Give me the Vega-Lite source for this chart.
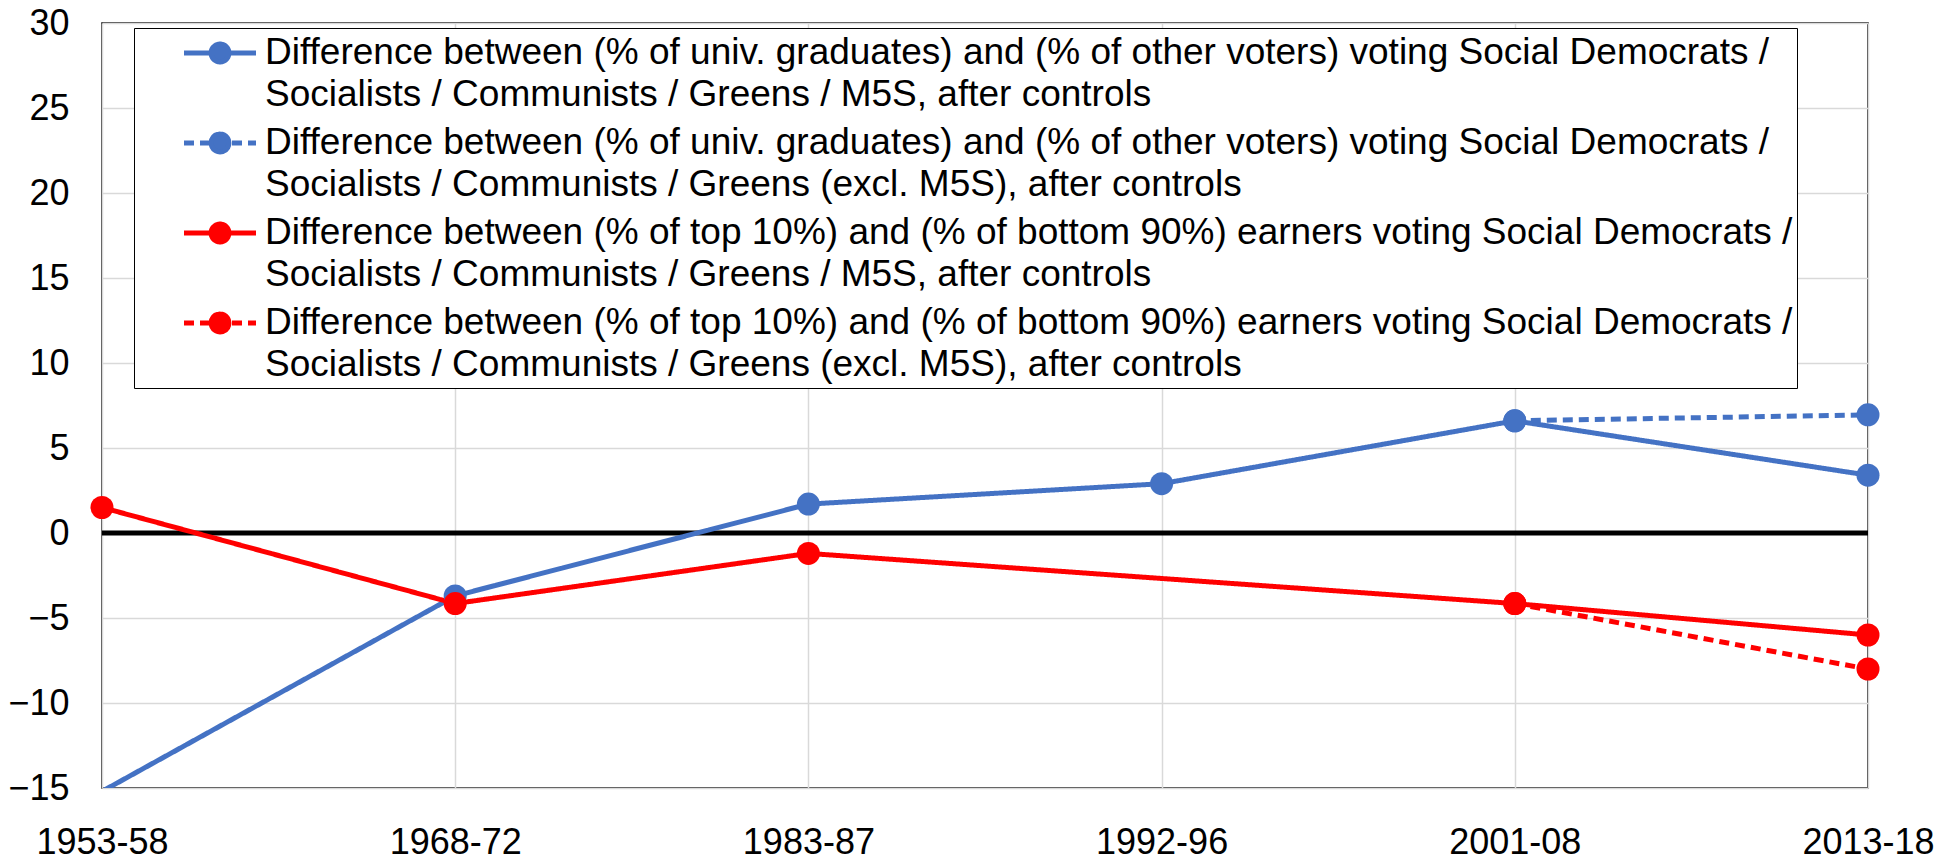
{
  "$schema": "https://vega.github.io/schema/vega-lite/v6.json",
  "width": 1766,
  "height": 765,
  "autosize": {"type": "none"},
  "padding": {"left": 102, "top": 23, "right": 91, "bottom": 72},
  "background": "white",
  "config": {
    "font": "Liberation Sans",
    "view": {"stroke": "black", "strokeWidth": 1.5},
    "axis": {"labelFont": "Liberation Sans", "labelFontSize": 36, "labelColor": "black", "ticks": false, "tickSize": 0, "domain": false, "gridColor": "#d9d9d9", "gridWidth": 1.5, "title": null}
  },
  "datasets": {
    "main": [
      {"period": "1953-58", "series": "Difference between (% of univ. graduates) and (% of other voters) voting Social Democrats / Socialists / Communists / Greens / M5S, after controls", "value": -15.2},
      {"period": "1968-72", "series": "Difference between (% of univ. graduates) and (% of other voters) voting Social Democrats / Socialists / Communists / Greens / M5S, after controls", "value": -3.7},
      {"period": "1983-87", "series": "Difference between (% of univ. graduates) and (% of other voters) voting Social Democrats / Socialists / Communists / Greens / M5S, after controls", "value": 1.7},
      {"period": "1992-96", "series": "Difference between (% of univ. graduates) and (% of other voters) voting Social Democrats / Socialists / Communists / Greens / M5S, after controls", "value": 2.9},
      {"period": "2001-08", "series": "Difference between (% of univ. graduates) and (% of other voters) voting Social Democrats / Socialists / Communists / Greens / M5S, after controls", "value": 6.6},
      {"period": "2013-18", "series": "Difference between (% of univ. graduates) and (% of other voters) voting Social Democrats / Socialists / Communists / Greens / M5S, after controls", "value": 3.4},
      {"period": "2001-08", "series": "Difference between (% of univ. graduates) and (% of other voters) voting Social Democrats / Socialists / Communists / Greens (excl. M5S), after controls", "value": 6.6},
      {"period": "2013-18", "series": "Difference between (% of univ. graduates) and (% of other voters) voting Social Democrats / Socialists / Communists / Greens (excl. M5S), after controls", "value": 6.95},
      {"period": "1953-58", "series": "Difference between (% of top 10%) and (% of bottom 90%) earners voting Social Democrats / Socialists / Communists / Greens / M5S, after controls", "value": 1.5},
      {"period": "1968-72", "series": "Difference between (% of top 10%) and (% of bottom 90%) earners voting Social Democrats / Socialists / Communists / Greens / M5S, after controls", "value": -4.15},
      {"period": "1983-87", "series": "Difference between (% of top 10%) and (% of bottom 90%) earners voting Social Democrats / Socialists / Communists / Greens / M5S, after controls", "value": -1.2},
      {"period": "2001-08", "series": "Difference between (% of top 10%) and (% of bottom 90%) earners voting Social Democrats / Socialists / Communists / Greens / M5S, after controls", "value": -4.15},
      {"period": "2013-18", "series": "Difference between (% of top 10%) and (% of bottom 90%) earners voting Social Democrats / Socialists / Communists / Greens / M5S, after controls", "value": -6.0},
      {"period": "2001-08", "series": "Difference between (% of top 10%) and (% of bottom 90%) earners voting Social Democrats / Socialists / Communists / Greens (excl. M5S), after controls", "value": -4.15},
      {"period": "2013-18", "series": "Difference between (% of top 10%) and (% of bottom 90%) earners voting Social Democrats / Socialists / Communists / Greens (excl. M5S), after controls", "value": -8.0}
    ]
  },
  "data": {"name": "main"},
  "layer": [
    {
      "data": {"values": [{"zero": 0}]},
      "mark": {"type": "rule", "color": "black", "strokeWidth": 5},
      "encoding": {"y": {"datum": 0, "type": "quantitative"}}
    },
    {
      "mark": {"type": "line", "clip": true, "strokeWidth": 5},
      "encoding": {
        "x": {"field": "period", "type": "ordinal", "scale": {"type": "point", "padding": 0, "domain": ["1953-58", "1968-72", "1983-87", "1992-96", "2001-08", "2013-18"]}, "axis": {"labelAngle": 0, "labelPadding": 37, "grid": true, "title": null}},
        "y": {"field": "value", "type": "quantitative", "scale": {"domain": [-15, 30], "nice": false, "zero": false}, "axis": {"values": [-15, -10, -5, 0, 5, 10, 15, 20, 25, 30], "labelPadding": 33, "grid": true, "title": null}},
        "color": {
          "field": "series", "type": "nominal",
          "scale": {
            "domain": [
              "Difference between (% of univ. graduates) and (% of other voters) voting Social Democrats / Socialists / Communists / Greens / M5S, after controls",
              "Difference between (% of univ. graduates) and (% of other voters) voting Social Democrats / Socialists / Communists / Greens (excl. M5S), after controls",
              "Difference between (% of top 10%) and (% of bottom 90%) earners voting Social Democrats / Socialists / Communists / Greens / M5S, after controls",
              "Difference between (% of top 10%) and (% of bottom 90%) earners voting Social Democrats / Socialists / Communists / Greens (excl. M5S), after controls"
            ],
            "range": ["#4472C4", "#4472C4", "#FF0000", "#FF0000"]
          },
          "legend": {
            "title": null,
            "orient": "none",
            "legendX": 32,
            "legendY": 5,
            "direction": "vertical",
            "symbolType": "M-2,0L2,0M0.49515,0A0.49515,0.49515 0 1,1 -0.49515,0A0.49515,0.49515 0 1,1 0.49515,0A0.49515,0.49515 0 1,1 -0.49515,0A0.49515,0.49515 0 1,1 0.49515,0Z",
            "symbolSize": 1296,
            "symbolStrokeWidth": 5,
            "symbolOffset": 61,
            "labelFont": "Liberation Sans",
            "labelFontSize": 37,
            "labelColor": "black",
            "labelLimit": 2000,
            "labelOffset": 24.5,
            "labelExpr": "[slice(datum.label, 0, indexof(datum.label, 'Socialists')), slice(datum.label, indexof(datum.label, 'Socialists'))]",
            "padding": 4.5,
            "rowPadding": 9,
            "fillColor": "white",
            "strokeColor": "black",
            "encode": {
              "symbols": {"update": {"fill": {"scale": "color", "field": "value"}, "fillOpacity": {"value": 1}}},
              "labels": {"update": {"lineHeight": {"value": 42}}}
            }
          }
        },
        "strokeDash": {
          "field": "series", "type": "nominal",
          "scale": {
            "domain": [
              "Difference between (% of univ. graduates) and (% of other voters) voting Social Democrats / Socialists / Communists / Greens / M5S, after controls",
              "Difference between (% of univ. graduates) and (% of other voters) voting Social Democrats / Socialists / Communists / Greens (excl. M5S), after controls",
              "Difference between (% of top 10%) and (% of bottom 90%) earners voting Social Democrats / Socialists / Communists / Greens / M5S, after controls",
              "Difference between (% of top 10%) and (% of bottom 90%) earners voting Social Democrats / Socialists / Communists / Greens (excl. M5S), after controls"
            ],
            "range": [[1, 0], [10, 6], [1, 0], [10, 6]]
          }
        }
      }
    },
    {
      "transform": [{"filter": "datum.value >= -15"}],
      "mark": {"type": "circle", "size": 530, "opacity": 1, "strokeWidth": 0},
      "encoding": {
        "x": {"field": "period", "type": "ordinal"},
        "y": {"field": "value", "type": "quantitative"},
        "color": {"field": "series", "type": "nominal"}
      }
    }
  ]
}
